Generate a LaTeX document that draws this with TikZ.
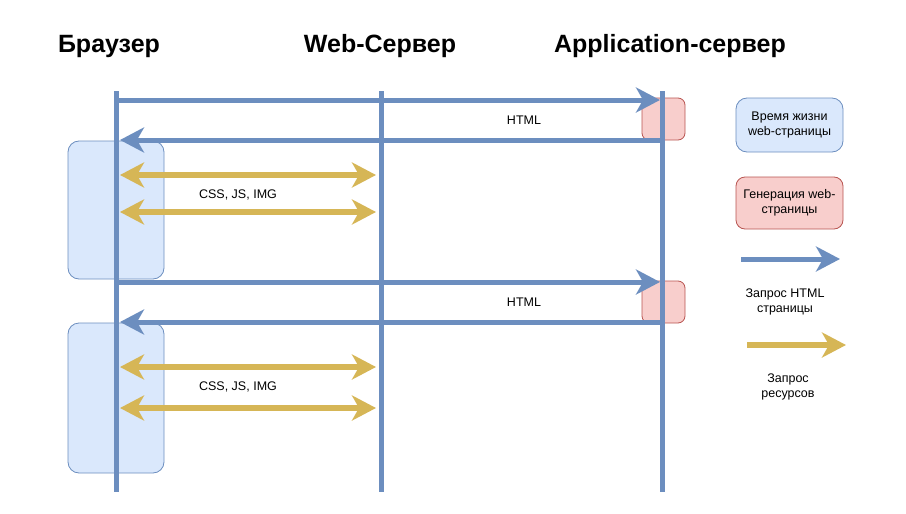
\documentclass[tikz,border=0pt]{standalone}
\usepackage{fontspec}
\setmainfont{Liberation Sans}
\usetikzlibrary{arrows.meta,positioning}
\definecolor{lineblue}{HTML}{6C8EBF}
\definecolor{fillblue}{HTML}{DAE8FC}
\definecolor{fillpink}{HTML}{F8CECC}
\definecolor{strokepink}{HTML}{B85450}
\definecolor{resyellow}{HTML}{D6B656}
\tikzset{
  lifeline/.style={lineblue,line width=5pt},
  bighead/.tip={Stealth[length=24pt 0,width=25pt 0,inset=7pt]},
  htmlreq/.style={lineblue,line width=5pt,-bighead},
  resreq/.style={resyellow,line width=5.5pt,bighead-bighead},
  pagelife/.style={draw=lineblue,fill=fillblue,rounded corners=11pt,line width=0.8pt},
  pagegen/.style={draw=strokepink,fill=fillpink,rounded corners=7pt,line width=0.8pt},
  title/.style={font=\bfseries\fontsize{25}{28}\selectfont},
  lbl/.style={font=\fontsize{12.5}{15}\selectfont,align=center,inner sep=1pt},
}
\begin{document}
\begin{tikzpicture}[x=1pt,y=-1pt]
\useasboundingbox (0,0) rectangle (906,514);
\pgfmathsetmacro{\kbrw}{116}
\pgfmathsetmacro{\kweb}{381}
\pgfmathsetmacro{\kapp}{662}
% titles
\node[title](tbrw) at (109,46){Браузер};
\node[title](tweb) at (380,46){Web-Сервер};
\node[title](tapp) at (670,46){Application-сервер};
% page lifetime and page generation
\node[pagelife,minimum width=96,minimum height=138](life1) at (\kbrw,210){};
\node[pagelife,minimum width=96,minimum height=150](life2) at (\kbrw,398){};
\foreach \ky/\kr in {119/1,302/2}{\node[pagegen,minimum width=43,minimum height=42](gen\kr) at (663.5,\ky){};}
% lifelines
\foreach \kx/\nm in {\kbrw/brw,\kweb/web,\kapp/app}{\coordinate(\nm top) at (\kx,91);\coordinate(\nm bot) at (\kx,492);\draw[lifeline](\nm top)--(\nm bot);}
% html request and answer
\foreach \ky/\kr in {100/1,282/2}{
\coordinate(req\kr s) at (\kbrw,\ky);\coordinate(req\kr e) at (\kapp-2,\ky);
\coordinate(ans\kr s) at (\kapp,\ky+40);\coordinate(ans\kr e) at (\kbrw+4,\ky+40);
\draw[htmlreq](req\kr s)--(req\kr e);
\draw[htmlreq](ans\kr s)--(ans\kr e);
\node[lbl](html\kr) at (524,\ky+20){HTML};}
% resources
\foreach \ky/\kr in {175/1,212/2,367/3,408/4}{\coordinate(res\kr s) at (\kbrw+4,\ky);\coordinate(res\kr e) at (\kweb-5,\ky);\draw[resreq](res\kr s)--(res\kr e);}
\node[lbl](css1) at (238,195){CSS, JS, IMG};
\node[lbl](css2) at (238,387){CSS, JS, IMG};
% legend
\node[pagelife,minimum width=107,minimum height=54,lbl,rounded corners=11pt](klife) at (789.5,125){Время жизни\\web-страницы};
\node[pagegen,minimum width=107,minimum height=52,lbl,rounded corners=9pt](kgen) at (789.5,203){Генерация web-\\страницы};
\coordinate(khtml s) at (741,259);\coordinate(khtml e) at (840,259);
\draw[htmlreq](khtml s)--(khtml e);
\node[lbl](khtmllbl) at (785,302){Запрос HTML\\страницы};
\coordinate(kres s) at (747,345);\coordinate(kres e) at (846,345);
\draw[resyellow,line width=5.5pt,-bighead](kres s)--(kres e);
\node[lbl](kreslbl) at (788,387){Запрос\\ресурсов};
\end{tikzpicture}
\end{document}
